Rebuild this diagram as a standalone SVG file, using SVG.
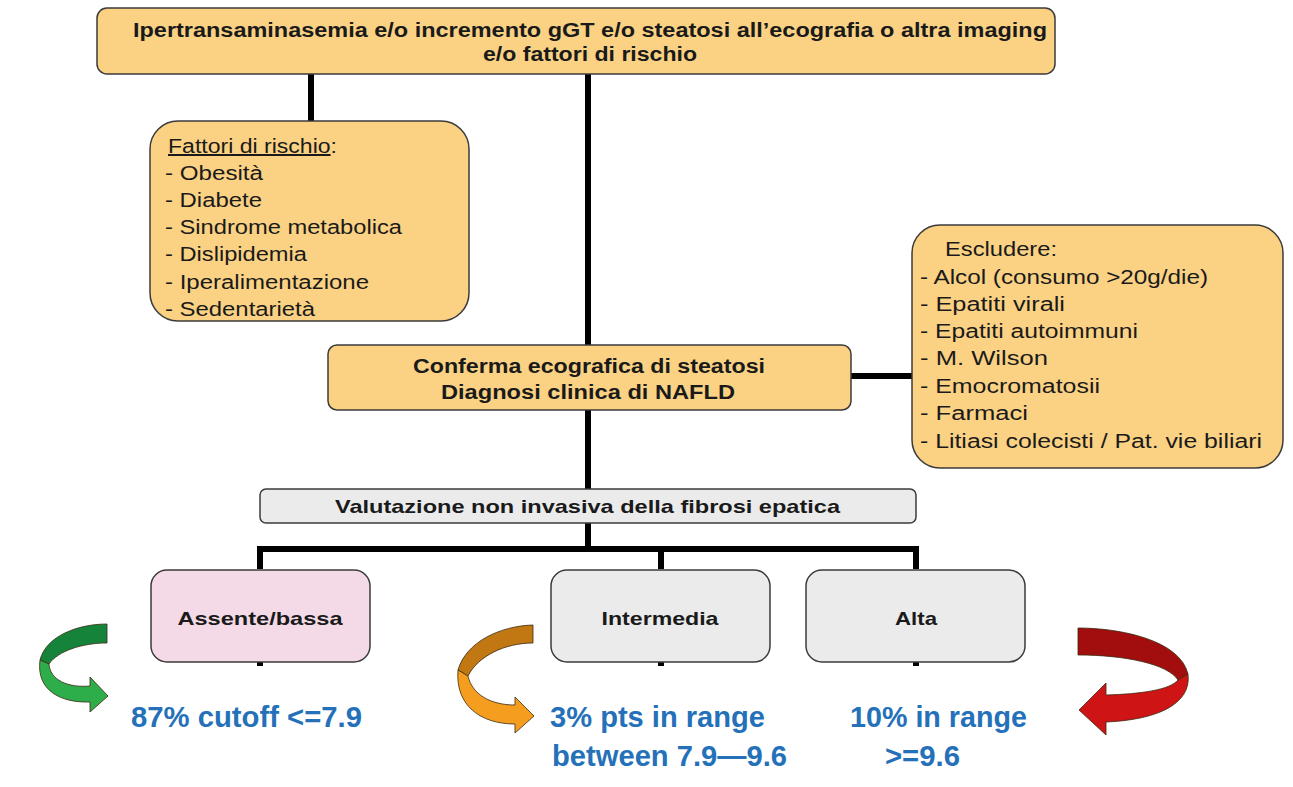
<svg xmlns="http://www.w3.org/2000/svg" width="1293" height="787" viewBox="0 0 1293 787">
<defs>
<style>
.box{fill:#FBD283;stroke:#3b3b3b;stroke-width:1.5}
.gbox{fill:#EBEBEB;stroke:#3b3b3b;stroke-width:1.5}
.pbox{fill:#F4D9E7;stroke:#3b3b3b;stroke-width:1.5}
.b{font-family:"Liberation Sans",Arial,sans-serif;font-weight:bold;fill:#1a1a1a}
.r{font-family:"Liberation Sans",Arial,sans-serif;fill:#1a1a1a;font-size:20px}
.blue{font-family:"Liberation Sans",Arial,sans-serif;font-weight:bold;fill:#2571B9;font-size:30px}
.conn{stroke:#000;stroke-width:6;fill:none}
.arr{stroke:#3a2a10;stroke-width:0.8}
</style>
</defs>
<rect width="1293" height="787" fill="#fff"/>

<g id="connectors">
<line class="conn" x1="311" y1="74" x2="311" y2="121"/>
<line class="conn" x1="588" y1="74" x2="588" y2="346"/>
<line class="conn" x1="850" y1="376" x2="913" y2="376"/>
<line class="conn" x1="588" y1="409" x2="588" y2="489"/>
<line class="conn" x1="588" y1="522" x2="588" y2="549"/>
<polyline class="conn" points="260,569 260,549 916,549 916,569"/>
<line class="conn" x1="661" y1="549" x2="661" y2="569"/>
<line class="conn" x1="260" y1="655" x2="260" y2="666"/>
<line class="conn" x1="661" y1="655" x2="661" y2="666"/>
<line class="conn" x1="916" y1="655" x2="916" y2="666"/>
</g>

<g id="node-top">
<rect class="box" x="97" y="8" width="958" height="66" rx="10"/>
<text class="b" font-size="20" x="133" y="37" textLength="914" lengthAdjust="spacingAndGlyphs">Ipertransaminasemia e/o incremento gGT e/o steatosi all’ecografia o altra imaging</text>
<text class="b" font-size="20" x="483" y="61" textLength="214" lengthAdjust="spacingAndGlyphs">e/o fattori di rischio</text>
</g>

<g id="node-risk">
<rect class="box" x="150" y="121" width="319" height="200" rx="28"/>
<text class="r" x="168" y="153" textLength="169" lengthAdjust="spacingAndGlyphs"><tspan text-decoration="underline">Fattori di rischio</tspan>:</text>
<text class="r" x="165" y="180" textLength="98" lengthAdjust="spacingAndGlyphs">- Obesità</text>
<text class="r" x="165" y="207" textLength="97" lengthAdjust="spacingAndGlyphs">- Diabete</text>
<text class="r" x="165" y="234" textLength="237" lengthAdjust="spacingAndGlyphs">- Sindrome metabolica</text>
<text class="r" x="165" y="261" textLength="142" lengthAdjust="spacingAndGlyphs">- Dislipidemia</text>
<text class="r" x="165" y="289" textLength="204" lengthAdjust="spacingAndGlyphs">- Iperalimentazione</text>
<text class="r" x="165" y="316" textLength="150" lengthAdjust="spacingAndGlyphs">- Sedentarietà</text>
</g>

<g id="node-escludere">
<rect class="box" x="912" y="225" width="371" height="243" rx="28"/>
<text class="r" x="945" y="256" textLength="112" lengthAdjust="spacingAndGlyphs">Escludere:</text>
<text class="r" x="920" y="284" textLength="288" lengthAdjust="spacingAndGlyphs">- Alcol (consumo &gt;20g/die)</text>
<text class="r" x="920" y="311" textLength="145" lengthAdjust="spacingAndGlyphs">- Epatiti virali</text>
<text class="r" x="920" y="338" textLength="218" lengthAdjust="spacingAndGlyphs">- Epatiti autoimmuni</text>
<text class="r" x="920" y="365" textLength="128" lengthAdjust="spacingAndGlyphs">- M. Wilson</text>
<text class="r" x="920" y="393" textLength="180" lengthAdjust="spacingAndGlyphs">- Emocromatosii</text>
<text class="r" x="920" y="420" textLength="108" lengthAdjust="spacingAndGlyphs">- Farmaci</text>
<text class="r" x="920" y="448" textLength="342" lengthAdjust="spacingAndGlyphs">- Litiasi colecisti / Pat. vie biliari</text>
</g>

<g id="node-conferma">
<rect class="box" x="328" y="345" width="523" height="65" rx="9"/>
<text class="b" font-size="20" x="413" y="373" textLength="352" lengthAdjust="spacingAndGlyphs">Conferma ecografica di steatosi</text>
<text class="b" font-size="20" x="441" y="399" textLength="294" lengthAdjust="spacingAndGlyphs">Diagnosi clinica di NAFLD</text>
</g>

<g id="node-valutazione">
<rect class="gbox" x="260" y="489" width="656" height="34" rx="6"/>
<text class="b" font-size="19" x="335" y="513" textLength="505" lengthAdjust="spacingAndGlyphs">Valutazione non invasiva della fibrosi epatica</text>
</g>

<g id="node-assente">
<rect class="pbox" x="151" y="570" width="219" height="92" rx="16"/>
<text class="b" font-size="19" x="260" y="625" text-anchor="middle" textLength="165" lengthAdjust="spacingAndGlyphs">Assente/bassa</text>
</g>
<g id="node-intermedia">
<rect class="gbox" x="551" y="570" width="219" height="92" rx="16"/>
<text class="b" font-size="19" x="660" y="625" text-anchor="middle" textLength="117" lengthAdjust="spacingAndGlyphs">Intermedia</text>
<text class="blue" x="550" y="727" textLength="215" lengthAdjust="spacingAndGlyphs">3% pts in range</text>
<text class="blue" x="552" y="766" textLength="235" lengthAdjust="spacingAndGlyphs">between 7.9—9.6</text>
</g>
<g id="node-alta">
<rect class="gbox" x="806" y="570" width="219" height="92" rx="16"/>
<text class="b" font-size="19" x="916" y="625" text-anchor="middle" textLength="42" lengthAdjust="spacingAndGlyphs">Alta</text>
<text class="blue" x="850" y="727" textLength="177" lengthAdjust="spacingAndGlyphs">10% in range</text>
<text class="blue" x="885" y="766" textLength="75" lengthAdjust="spacingAndGlyphs">&gt;=9.6</text>
</g>

<g id="label-assente">
<text class="blue" x="131" y="727" textLength="231" lengthAdjust="spacingAndGlyphs">87% cutoff &lt;=7.9</text>
</g>

<g id="arrow-green">
<path class="arr" fill="#15843A" d="M107,624 C78,624 46,636 40,660 L49,664 C58,651 82,643 107,643 Z"/>
<path class="arr" fill="#2DAE4B" d="M40,660 C36,690 60,703 90,702 L90,712 L108,696 L90,677 L90,686 C68,688 50,680 49,664 Z"/>
</g>
<g id="arrow-orange">
<path class="arr" fill="#C27812" d="M533,625 C500,626 466,642 458,670 L468,676 C478,656 505,643 533,643 Z"/>
<path class="arr" fill="#F59D1E" d="M458,670 C455,705 480,724 515,724 L515,733 L534,716 L515,697 L515,705 C490,705 472,694 468,676 Z"/>
</g>
<g id="arrow-red">
<path class="arr" fill="#A20D0D" d="M1078,628 C1120,628 1180,640 1188,674 L1178,680 C1168,664 1125,655 1078,655 Z"/>
<path class="arr" fill="#CE1414" d="M1188,674 C1192,705 1155,720 1106,722 L1106,735 L1079,710 L1106,683 L1106,695 C1140,694 1170,690 1178,680 Z"/>
</g>
</svg>
